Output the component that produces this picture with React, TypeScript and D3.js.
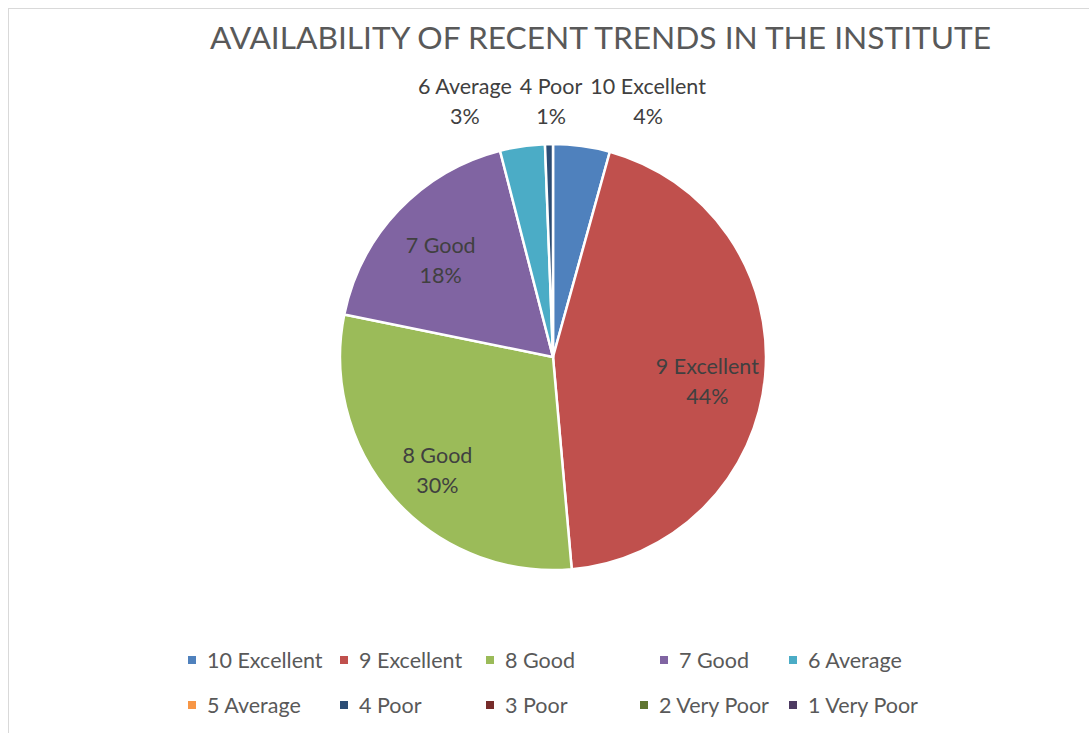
import React, { useEffect, useRef } from 'react';
import * as d3 from 'd3';

const categories = ['10 Excellent', '9 Excellent', '8 Good', '7 Good', '6 Average',
  '5 Average', '4 Poor', '3 Poor', '2 Very Poor', '1 Very Poor'];
// shares in percent
const shares = [4.3, 44.3, 29.6, 17.8, 3.4, 0, 0.6, 0, 0, 0];
const colors = ['#4F81BD', '#C0504D', '#9BBB59', '#8064A2', '#4BACC6',
  '#F79646', '#2C4D75', '#772C2A', '#5F7530', '#4D3B62'];
const title = 'AVAILABILITY OF RECENT TRENDS IN THE INSTITUTE';

const W = 1089;
const H = 733;
const FONT = "Lato, 'Noto Sans', sans-serif";

export default function App() {
  const svgRef = useRef<SVGSVGElement>(null);

  useEffect(() => {
    if (!svgRef.current) return;
    const svg = d3.select(svgRef.current);
    svg.selectAll('*').remove();

    // chart area frame (only top/left edges fall inside the window)
    svg.append('rect')
      .attr('x', 8.5).attr('y', 8.5)
      .attr('width', W + 20).attr('height', H + 20)
      .attr('fill', '#fff')
      .attr('stroke', '#d9d9d9')
      .attr('stroke-width', 1);

    svg.append('text')
      .attr('x', 600.5).attr('y', 48.5)
      .attr('text-anchor', 'middle')
      .style('font-family', FONT)
      .style('font-size', '31.7px')
      .style('fill', '#595959')
      .text(title);

    const cx = 553, cy = 357, r = 213;
    const total = d3.sum(shares);
    const data = categories.map((c, i) => ({ name: c, value: shares[i], color: colors[i] }));

    const pie = d3.pie<typeof data[0]>().value(d => d.value).sort(null);
    const arcs = pie(data);
    const arc = d3.arc<d3.PieArcDatum<typeof data[0]>>().innerRadius(0).outerRadius(r);

    const g = svg.append('g').attr('transform', `translate(${cx},${cy})`);
    g.selectAll('path')
      .data(arcs.filter(a => a.value > 0))
      .enter()
      .append('path')
      .attr('d', arc as any)
      .attr('fill', d => d.data.color)
      .attr('stroke', '#fff')
      .attr('stroke-width', 2.5)
      .attr('stroke-linejoin', 'round');

    const pct = (v: number) => `${Math.round((v / total) * 100)}%`;
    const inside = arcs.filter(a => a.value / total > 0.1);
    const outside = arcs.filter(a => a.value > 0 && a.value / total <= 0.1);

    const labelArc = d3.arc<d3.PieArcDatum<typeof data[0]>>().innerRadius(155).outerRadius(155);

    const drawLabel = (x: number, y: number, name: string, p: string) => {
      const t = g.append('text')
        .attr('text-anchor', 'middle')
        .style('font-family', FONT)
        .style('font-size', '21.5px')
        .style('fill', '#404040');
      t.append('tspan').attr('x', x).attr('y', y).text(name);
      t.append('tspan').attr('x', x).attr('y', y + 29.5).text(p);
    };

    inside.forEach(a => {
      const [x, y] = labelArc.centroid(a);
      drawLabel(x, y + 3, a.data.name, pct(a.value));
    });

    // outside labels above the pie, spread so they don't overlap
    const measure = svg.append('text')
      .style('font-family', FONT).style('font-size', '21.5px');
    const outs = outside.map(a => {
      const mid = (a.startAngle + a.endAngle) / 2;
      const ideal = 262 * Math.sin(mid) + 3;
      measure.text(a.data.name);
      const w = (measure.node() as SVGTextElement).getComputedTextLength();
      return { a, x: ideal, w };
    }).sort((p, q) => p.x - q.x);
    measure.remove();
    const gap = 8;
    const anchor = outs.reduce((best, o, i) => Math.abs(o.x) < Math.abs(outs[best].x) ? i : best, 0);
    for (let i = anchor + 1; i < outs.length; i++) {
      const min = outs[i - 1].x + outs[i - 1].w / 2 + gap + outs[i].w / 2;
      if (outs[i].x < min) outs[i].x = min;
    }
    for (let i = anchor - 1; i >= 0; i--) {
      const max = outs[i + 1].x - outs[i + 1].w / 2 - gap - outs[i].w / 2;
      if (outs[i].x > max) outs[i].x = max;
    }
    outs.forEach(o => drawLabel(o.x, -263, o.a.data.name, pct(o.a.value)));

    // legend
    const rows = [[0, 1, 2, 3, 4], [5, 6, 7, 8, 9]];
    const rowStarts = [[188, 340, 486, 660, 789], [188, 340, 486, 640, 789]];
    const rowY = [660, 705];
    rows.forEach((row, ri) => {
      row.forEach((idx, ci) => {
        const lg = svg.append('g').attr('transform', `translate(${rowStarts[ri][ci]},${rowY[ri]})`);
        lg.append('rect')
          .attr('x', 0).attr('y', -4)
          .attr('width', 8).attr('height', 8)
          .attr('fill', colors[idx]);
        lg.append('text')
          .attr('x', 19).attr('y', 7.5)
          .style('font-family', FONT)
          .style('font-size', '21.5px')
          .style('fill', '#595959')
          .text(categories[idx]);
      });
    });
  }, []);

  return (
    <div style={{ position: 'absolute', left: 0, top: 0 }}>
      <svg ref={svgRef} width={W} height={H} style={{ display: 'block' }}></svg>
    </div>
  );
}
